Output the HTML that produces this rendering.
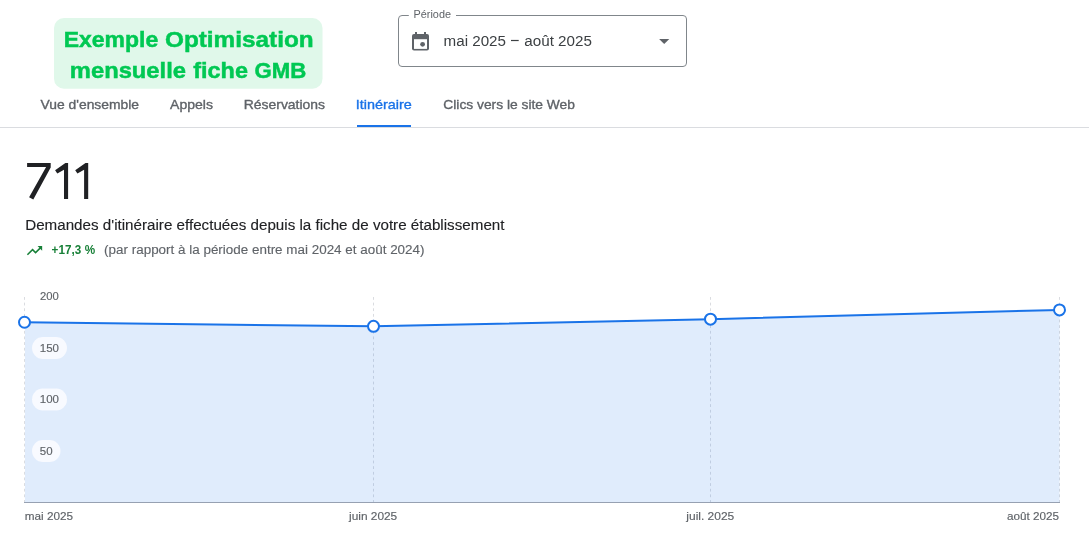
<!DOCTYPE html>
<html lang="fr">
<head>
<meta charset="utf-8">
<title>Itinéraire</title>
<style>
  html, body { margin: 0; padding: 0; background: #ffffff; }
  body { width: 1089px; height: 535px; overflow: hidden; position: relative;
         font-family: "Liberation Sans", sans-serif; }
  svg { position: absolute; left: 0; top: 0; display: block; will-change: transform; }
  text { font-family: "Liberation Sans", sans-serif; }
</style>
</head>
<body>
<svg width="1089" height="535" viewBox="0 0 1089 535">
  <!-- Banner -->
  <rect x="54" y="18" width="268.5" height="70.8" rx="10" ry="10" fill="#e0f8ea"/>
  <g font-size="21.5" font-weight="700" fill="#00c853" stroke="#00c853" stroke-width="0.45">
    <text x="63.7" y="46.7" textLength="94.6" lengthAdjust="spacingAndGlyphs">Exemple</text>
    <text x="165" y="46.7" textLength="148.6" lengthAdjust="spacingAndGlyphs">Optimisation</text>
    <text x="69.8" y="77.8" textLength="116.2" lengthAdjust="spacingAndGlyphs">mensuelle</text>
    <text x="193.3" y="77.8" textLength="54.6" lengthAdjust="spacingAndGlyphs">fiche</text>
    <text x="254.6" y="77.8" textLength="51.8" lengthAdjust="spacingAndGlyphs">GMB</text>
  </g>

  <!-- Period dropdown -->
  <rect x="398.5" y="15.5" width="288" height="51" rx="3.5" ry="3.5" fill="none" stroke="#80868b" stroke-width="1"/>
  <rect x="408.8" y="12" width="47.2" height="8" fill="#ffffff"/>
  <text x="413.5" y="17.5" font-size="11" fill="#5f6368" textLength="37.5" lengthAdjust="spacingAndGlyphs">Période</text>
  <!-- calendar icon -->
  <g fill="#5f6368">
    <rect x="412" y="34" width="17" height="16.5" rx="2" ry="2"/>
    <rect x="415" y="32" width="2" height="3"/>
    <rect x="424" y="32" width="2" height="3"/>
  </g>
  <rect x="414" y="39.2" width="13" height="9.7" fill="#ffffff"/>
  <circle cx="422.6" cy="44.3" r="2.4" fill="#5f6368"/>
  <text x="443.6" y="45.8" font-size="15.1" fill="#3c4043" textLength="62.4" lengthAdjust="spacingAndGlyphs">mai 2025</text>
  <rect x="511" y="39.9" width="7.7" height="1.2" fill="#3c4043"/>
  <text x="524.3" y="45.8" font-size="15.1" fill="#3c4043" textLength="67.6" lengthAdjust="spacingAndGlyphs">août 2025</text>
  <path d="M659.1 39 L669.3 39 L664.2 44.1 Z" fill="#5f6368"/>

  <!-- Tabs -->
  <g font-size="13" fill="#5f6368" stroke="#5f6368" stroke-width="0.35">
    <text x="40.6" y="109.2" textLength="98.4" lengthAdjust="spacingAndGlyphs">Vue d'ensemble</text>
    <text x="170.1" y="109.2" textLength="42.9" lengthAdjust="spacingAndGlyphs">Appels</text>
    <text x="243.8" y="109.2" textLength="81.2" lengthAdjust="spacingAndGlyphs">Réservations</text>
    <text x="355.8" y="109.2" fill="#1a73e8" stroke="#1a73e8" textLength="56" lengthAdjust="spacingAndGlyphs">Itinéraire</text>
    <text x="443.3" y="109.2" textLength="131.6" lengthAdjust="spacingAndGlyphs">Clics vers le site Web</text>
  </g>
  <rect x="357" y="125" width="54" height="2" fill="#1a73e8"/>
  <rect x="0" y="127" width="1089" height="1" fill="#dadce0"/>

  <!-- Metric -->
  <g fill="#202124">
    <path d="M27.1 163 H50.7 V167.6 L33.3 199.5 L29.1 197.3 L46.1 166.9 H27.1 Z"/>
    <path d="M55.1 170.2 L65.4 163 H68.1 V199 H64 V169.8 L57.3 173.6 Z"/>
    <path d="M75.2 170.2 L85.5 163 H88.2 V199 H84.1 V169.8 L77.4 173.6 Z"/>
  </g>
  <text x="25.2" y="229.8" font-size="14" fill="#202124" stroke="#202124" stroke-width="0.12" textLength="479.3" lengthAdjust="spacingAndGlyphs">Demandes d'itinéraire effectuées depuis la fiche de votre établissement</text>
  <g transform="translate(25.33 241.5) scale(0.765)">
    <path d="M16 6l2.29 2.29-4.88 4.88-4-4L2 16.59 3.41 18l6-6 4 4 6.3-6.29L22 12V6z" fill="#188038"/>
  </g>
  <g font-size="12" font-weight="700" fill="#188038">
    <text x="51.6" y="253.8" textLength="29.6" lengthAdjust="spacingAndGlyphs">+17,3</text>
    <text x="84.8" y="253.8" textLength="10.4" lengthAdjust="spacingAndGlyphs">%</text>
  </g>
  <text x="104.1" y="253.5" font-size="12" fill="#5f6368" stroke="#5f6368" stroke-width="0.12" textLength="320.4" lengthAdjust="spacingAndGlyphs">(par rapport à la période entre mai 2024 et août 2024)</text>

  <!-- Chart -->
    <g stroke="#dadce0" stroke-width="1" stroke-dasharray="2.82 2.82">
    <line x1="24.5" y1="297" x2="24.5" y2="502"/>
    <line x1="373.5" y1="297" x2="373.5" y2="502"/>
    <line x1="710.5" y1="297" x2="710.5" y2="502"/>
    <line x1="1059.5" y1="297" x2="1059.5" y2="502"/>
  </g>
  <path d="M25 322.25 L373.5 326.37 L710.5 319.16 L1059.5 309.89 L1059.5 502 L25 502 Z" fill="#1a73e8" fill-opacity="0.135"/>
  <rect x="24" y="502" width="1036" height="1" fill="#97a1b2"/>
  <polyline points="24.5,322.25 373.5,326.37 710.5,319.16 1059.5,309.89" fill="none" stroke="#1a73e8" stroke-width="2"/>
  <g fill="#ffffff" stroke="#1a73e8" stroke-width="2">
    <circle cx="24.5" cy="322.25" r="5.5"/>
    <circle cx="373.5" cy="326.37" r="5.5"/>
    <circle cx="710.5" cy="319.16" r="5.5"/>
    <circle cx="1059.5" cy="309.89" r="5.5"/>
  </g>

  <!-- Y labels with pills -->
  <g fill="#f8faff">
        <rect x="32" y="337" width="35" height="22" rx="11" ry="11"/>
    <rect x="32" y="388.5" width="35" height="22" rx="11" ry="11"/>
    <rect x="32" y="440" width="28.5" height="22" rx="11" ry="11"/>
  </g>
  <g font-size="11" fill="#5f6368" stroke="#5f6368" stroke-width="0.15">
    <text x="40" y="300" textLength="18.8" lengthAdjust="spacingAndGlyphs">200</text>
    <text x="39.8" y="352" textLength="19.2" lengthAdjust="spacingAndGlyphs">150</text>
    <text x="39.8" y="403.4" textLength="19.2" lengthAdjust="spacingAndGlyphs">100</text>
    <text x="39.8" y="455.2" textLength="12.8" lengthAdjust="spacingAndGlyphs">50</text>
  </g>

  <!-- X labels -->
  <g font-size="11" fill="#5f6368" stroke="#5f6368" stroke-width="0.15">
    <text x="24.8" y="520" textLength="48.3" lengthAdjust="spacingAndGlyphs">mai 2025</text>
    <text x="349" y="520" textLength="48.2" lengthAdjust="spacingAndGlyphs">juin 2025</text>
    <text x="686.3" y="520" textLength="48" lengthAdjust="spacingAndGlyphs">juil. 2025</text>
    <text x="1007.1" y="520" textLength="52" lengthAdjust="spacingAndGlyphs">août 2025</text>
  </g>
</svg>
</body>
</html>
